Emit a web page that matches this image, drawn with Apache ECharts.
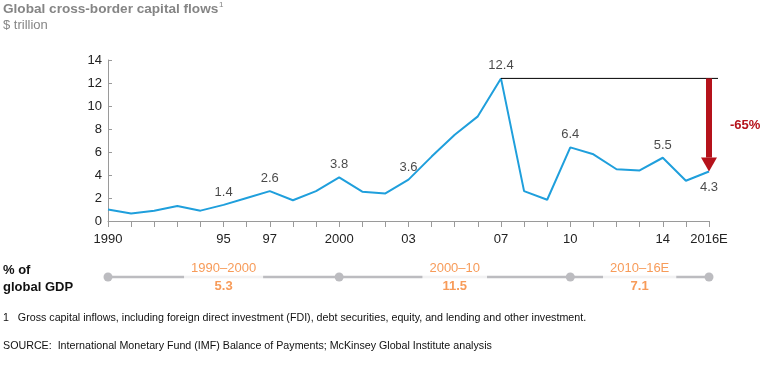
<!DOCTYPE html>
<html>
<head>
<meta charset="utf-8">
<script src="https://cdn.jsdelivr.net/npm/echarts@6/dist/echarts.min.js"></script>
<style>
html,body{margin:0;padding:0;background:#fff;}
#chart{width:768px;height:365px;}
</style>
</head>
<body>
<div id="chart"></div>
<script>
// ---- data ----
const years = ['1990','1991','1992','1993','1994','1995','1996','1997','1998','1999','2000','2001','2002','2003','2004','2005','2006','2007','2008','2009','2010','2011','2012','2013','2014','2015','2016E'];
const flows = [1.0, 0.65, 0.9, 1.3, 0.9, 1.4, 2.0, 2.6, 1.8, 2.6, 3.8, 2.55, 2.4, 3.6, 5.6, 7.5, 9.1, 12.4, 2.6, 1.85, 6.4, 5.8, 4.5, 4.4, 5.5, 3.5, 4.3];
const tickLabels = {'1990':'1990','1995':'95','1997':'97','2000':'2000','2003':'03','2007':'07','2010':'10','2014':'14','2016E':'2016E'};
const labeledYears = ['1995','1997','2000','2003','2007','2010','2014','2016E'];
const labelsBelow = ['2016E'];
const yTicks = [0, 2, 4, 6, 8, 10, 12, 14];
const peakYear = '2007';
const lastYear = '2016E';
const changeLabel = '-65%';
const periodBounds = ['1990','2000','2010','2016E'];
const periodMid = ['1995','2005','2013'];
const periodLabels = ['1990–2000','2000–10','2010–16E'];
const gdpShares = ['5.3','11.5','7.1'];

// ---- chart ----
const FONT = '"Liberation Sans", Arial, sans-serif';
const BLUE = '#1f9fdc';
const ORANGE = '#f5822f';
const RED = '#b5121b';
const chart = echarts.init(document.getElementById('chart'));
const peakIdx = years.indexOf(peakYear);
const lastIdx = years.indexOf(lastYear);

const option = {
  animation: false,
  textStyle: {fontFamily: FONT},
  graphic: [
    {type:'text', left:3, top:2, style:{text:'Global cross-border capital flows', font:'bold 13.6px ' + FONT, fill:'#858585'}},
    {type:'text', left:219, top:1, style:{text:'1', font:'8px ' + FONT, fill:'#858585'}},
    {type:'text', left:3, top:19, style:{text:'$ trillion', font:'13px ' + FONT, fill:'#858585'}},
    {type:'text', left:730, top:119, style:{text:changeLabel, font:'bold 13px ' + FONT, fill:RED}},
    {type:'text', left:3, top:264, style:{text:'% of', font:'bold 13px ' + FONT, fill:'#111'}},
    {type:'text', left:3, top:281, style:{text:'global GDP', font:'bold 13px ' + FONT, fill:'#111'}},
    {type:'text', left:3, top:313, style:{text:'1   Gross capital inflows, including foreign direct investment (FDI), debt securities, equity, and lending and other investment.', font:'10.7px ' + FONT, fill:'#111'}},
    {type:'text', left:3, top:341, style:{text:'SOURCE:  International Monetary Fund (IMF) Balance of Payments; McKinsey Global Institute analysis', font:'10.7px ' + FONT, fill:'#111'}}
  ],
  grid: [
    {left:108, right:59, top:60, bottom:144},
    {left:108, right:59, top:272, height:10}
  ],
  xAxis: [
    {
      type:'category', data:years, boundaryGap:false, gridIndex:0,
      axisLine:{lineStyle:{color:'#9a9a9a', width:1}},
      axisTick:{show:true, interval:0, length:6, lineStyle:{color:'#9a9a9a'}},
      axisLabel:{interval:0, margin:12, color:'#222', fontSize:13, fontFamily:FONT,
        formatter: v => tickLabels[v] || ''}
    },
    {type:'category', data:years, boundaryGap:false, gridIndex:1, show:false}
  ],
  yAxis: [
    {
      type:'value', min:yTicks[0], max:yTicks[yTicks.length-1], interval:2, gridIndex:0,
      splitLine:{show:false},
      axisLine:{show:true, lineStyle:{color:'#9a9a9a'}},
      axisTick:{show:true, inside:true, length:4, lineStyle:{color:'#9a9a9a'}},
      axisLabel:{margin:6, color:'#222', fontSize:13, fontFamily:FONT}
    },
    {type:'value', min:0, max:1, gridIndex:1, show:false}
  ],
  series: [
    {
      type:'line', data:flows, xAxisIndex:0, yAxisIndex:0,
      symbol:'none', lineStyle:{color:BLUE, width:2}, z:3
    },
    {
      type:'scatter', xAxisIndex:0, yAxisIndex:0, z:6, symbolSize:0,
      data: labeledYears.map(y => [y, flows[years.indexOf(y)]]),
      label:{
        show:true, fontSize:13, color:'#1a1a1a', fontFamily:FONT, distance:6,
        position:'top',
        formatter: p => p.value[1].toFixed(1)
      },
      labelLayout: p => labelsBelow.includes(labeledYears[p.dataIndex]) ? {dy: 28} : {}
    },
    {
      type:'custom', xAxisIndex:0, yAxisIndex:0, z:4,
      data:[[peakIdx, lastIdx, flows[peakIdx], flows[lastIdx]]],
      renderItem: (params, api) => {
        const a = api.coord([api.value(0), api.value(2)]);
        const b = api.coord([api.value(1), api.value(2)]);
        const c = api.coord([api.value(1), api.value(3)]);
        const head = 14;
        return {type:'group', children:[
          {type:'line', shape:{x1:a[0], y1:a[1], x2:b[0] + 9, y2:b[1]}, style:{stroke:'#000', lineWidth:1}},
          {type:'rect', shape:{x:b[0]-3, y:b[1], width:6, height:c[1]-head-b[1]}, style:{fill:RED}},
          {type:'polygon', shape:{points:[[c[0]-8, c[1]-head],[c[0]+8, c[1]-head],[c[0], c[1]]]}, style:{fill:RED}}
        ]};
      }
    },
    {
      type:'line', xAxisIndex:1, yAxisIndex:1, z:2,
      data: years.map(() => 0.5),
      symbol:'circle',
      symbolSize: (v, p) => periodBounds.includes(years[p.dataIndex]) ? 9 : 0,
      itemStyle:{color:'#bcbcc0'}, lineStyle:{color:'#bcbcc0', width:2.5},
      showAllSymbol:true
    },
    {
      type:'scatter', xAxisIndex:1, yAxisIndex:1, z:5, symbolSize:0,
      data: periodMid.map((y, i) => [y, 0.5]),
      label:{
        show:true, position:'inside', backgroundColor:'#fff', padding:[0,7],
        formatter: p => '{a|' + periodLabels[p.dataIndex] + '}\n{b|' + gdpShares[p.dataIndex] + '}',
        rich:{
          a:{fontSize:13, color:ORANGE, fontFamily:FONT, lineHeight:18, align:'center'},
          b:{fontSize:13, color:ORANGE, fontWeight:'bold', fontFamily:FONT, lineHeight:18, align:'center'}
        }
      }
    }
  ]
};
chart.setOption(option);
</script>
</body>
</html>
